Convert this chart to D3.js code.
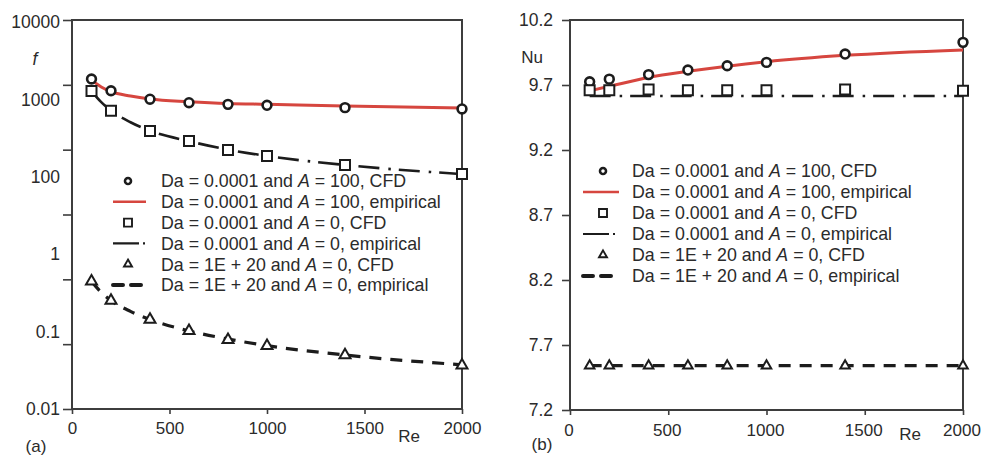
<!DOCTYPE html>
<html>
<head>
<meta charset="utf-8">
<script src="https://cdn.jsdelivr.net/npm/d3@7"></script>
<style>
  body { margin: 0; background: #fff; }
  svg { display: block; }
  text { font-family: "Liberation Sans", Arial, Helvetica, sans-serif; fill: #2b2b2b; }
</style>
</head>
<body>
<svg id="chart" width="981" height="456"></svg>
<script>
// Reynolds numbers of the CFD runs and of the empirical correlation curves
const reCFD = [100, 200, 400, 600, 800, 1000, 1400, 2000];
const reEmp = [100, 150, 200, 300, 400, 600, 800, 1000, 1400, 2000];
const reTicks = [0, 500, 1000, 1500, 2000];

// (a) friction factor f
const fCfdA100 = [1230, 810, 600, 530, 500, 483, 445, 425];
const fCfdA0 = [800, 400, 194, 136, 99, 80, 58, 42];
const fCfdClear = [0.93, 0.47, 0.24, 0.16, 0.117, 0.094, 0.068, 0.047];
const fEmpA100 = [1190, 925, 785, 673, 605, 550, 515, 500, 470, 440];
const fEmpA0 = [800, 540, 400, 265, 195, 135, 100, 80, 58, 42];
const fEmpClear = [0.93, 0.63, 0.47, 0.32, 0.24, 0.16, 0.12, 0.095, 0.068, 0.048];
const fTickValues = [0.01, 0.1, 1, 10, 100, 1000, 10000];
const fTickLabels = ["10000", "1000", "100", "1", "0.1", "0.01"];

// (b) Nusselt number Nu
const nuCfdA100 = [9.725, 9.745, 9.78, 9.815, 9.848, 9.874, 9.938, 10.028];
const nuCfdA0 = [9.66, 9.66, 9.665, 9.66, 9.66, 9.66, 9.665, 9.655];
const nuCfdClear = [7.541, 7.541, 7.541, 7.541, 7.541, 7.541, 7.541, 7.541];
const nuEmpA100 = [9.655, 9.69, 9.758, 9.805, 9.845, 9.879, 9.928, 9.97];
const nuEmpA0 = [9.615, 9.615, 9.615, 9.615, 9.615, 9.615, 9.615, 9.615];
const nuEmpClear = [7.541, 7.541, 7.541, 7.541, 7.541, 7.541, 7.541, 7.541];
const nuTicks = [7.2, 7.7, 8.2, 8.7, 9.2, 9.7, 10.2];

const legendLabels = [
  "Da = 0.0001 and A = 100, CFD",
  "Da = 0.0001 and A = 100, empirical",
  "Da = 0.0001 and A = 0, CFD",
  "Da = 0.0001 and A = 0, empirical",
  "Da = 1E + 20 and A = 0, CFD",
  "Da = 1E + 20 and A = 0, empirical"
];
const legendKinds = ["circle", "red", "square", "dashdot", "triangle", "dashed"];

const RED = "#d6463f";
const INK = "#1c1c1c";
const FRAME = "#3d3d3d";
const TICK_FONT = 17.5;
const LEGEND_FONT = 17.8;
const TITLE_FONT = 17;

const svg = d3.select("#chart");

function drawFrame(g, x, y) {
  const [x0, x1] = x.range();
  const [y0, y1] = y.range();
  g.append("rect")
    .attr("x", x0).attr("y", y1)
    .attr("width", x1 - x0).attr("height", y0 - y1)
    .attr("fill", "none").attr("stroke", FRAME).attr("stroke-width", 2);
}

function styleAxis(ax, size) {
  ax.select(".domain").remove();
  ax.selectAll(".tick line").attr("stroke", FRAME).attr("stroke-width", 1.6);
  ax.selectAll("text").attr("font-size", size || TICK_FONT).attr("fill", "#2b2b2b")
    .attr("font-family", '"Liberation Sans", Arial, sans-serif');
}

function drawLine(g, x, y, xs, ys, kind) {
  const pts = xs.map((d, i) => [d, ys[i]]);
  const line = d3.line().x(d => x(d[0])).y(d => y(d[1])).curve(d3.curveMonotoneX);
  const p = g.append("path").datum(pts).attr("d", line).attr("fill", "none");
  if (kind === "red") p.attr("stroke", RED).attr("stroke-width", 3);
  if (kind === "dashdot") p.attr("stroke", INK).attr("stroke-width", 2.6).attr("stroke-dasharray", "21,9,2.5,8");
  if (kind === "dashed") p.attr("stroke", INK).attr("stroke-width", 3.2).attr("stroke-dasharray", "12,9");
}

function drawMarkers(g, x, y, xs, ys, kind, size) {
  const pts = xs.map((d, i) => [d, ys[i]]);
  const sel = g.append("g").selectAll("path").data(pts).join("path")
    .attr("transform", d => `translate(${x(d[0])},${y(d[1])})`)
    .attr("fill", "#fff").attr("stroke", INK);
  if (kind === "circle") sel.attr("d", d3.symbol(d3.symbolCircle, Math.PI * size * size)).attr("stroke-width", 2.6);
  if (kind === "square") sel.attr("d", d3.symbol(d3.symbolSquare, size * size)).attr("stroke-width", 2);
  if (kind === "triangle") sel.attr("d", d3.symbol(d3.symbolTriangle, Math.sqrt(3) / 4 * size * size)).attr("stroke-width", 2);
}

function drawLegend(g, cfg) {
  legendLabels.forEach((label, i) => {
    const cy = cfg.y0 + i * cfg.dy;
    const kind = legendKinds[i];
    if (kind === "circle" || kind === "square" || kind === "triangle") {
      const sz = kind === "circle" ? 3 : 8;
      const sym = kind === "circle" ? d3.symbolCircle : kind === "square" ? d3.symbolSquare : d3.symbolTriangle;
      const area = kind === "circle" ? Math.PI * sz * sz : kind === "square" ? sz * sz : Math.sqrt(3) / 4 * sz * sz;
      g.append("path").attr("d", d3.symbol(sym, area))
        .attr("transform", `translate(${cfg.sx},${cy})`)
        .attr("fill", "#fff").attr("stroke", INK).attr("stroke-width", kind === "circle" ? 2.6 : 1.9);
    } else {
      const l = g.append("line").attr("x1", cfg.lx0).attr("x2", cfg.lx1).attr("y1", cy).attr("y2", cy);
      if (kind === "red") l.attr("stroke", RED).attr("stroke-width", 2.6);
      if (kind === "dashdot") l.attr("stroke", INK).attr("stroke-width", 2.2).attr("stroke-dasharray", "26,4,2,10");
      if (kind === "dashed") l.attr("stroke", INK).attr("stroke-width", 4).attr("stroke-linecap", "round").attr("stroke-dasharray", "10,8");
    }
    const t = g.append("text").attr("x", cfg.tx).attr("y", cy).attr("dy", "0.36em").attr("font-size", LEGEND_FONT);
    const parts = label.split(" A ");
    t.append("tspan").text(parts[0] + " ");
    t.append("tspan").attr("font-style", "italic").text("A");
    t.append("tspan").text(" " + parts[1]);
  });
}

// ---------- panel (a): friction factor, log scale ----------
{
  const g = svg.append("g");
  const x = d3.scaleLinear().domain([0, 2000]).range([72, 462]);
  const y = d3.scaleLog().domain([0.01, 10000]).range([409, 20]);

  const ay = g.append("g").attr("transform", "translate(72,0)")
    .call(d3.axisLeft(y).tickValues(fTickValues).tickSize(9).tickFormat(""));
  styleAxis(ay);
  // decade labels spread evenly down the axis
  const yl = d3.scalePoint().domain(fTickLabels).range([22, 409]);
  g.append("g").selectAll("text").data(fTickLabels).join("text")
    .attr("x", 60).attr("y", d => yl(d)).attr("dy", "0.35em")
    .attr("text-anchor", "end").attr("font-size", TICK_FONT).text(d => d);

  const ax = g.append("g").attr("transform", "translate(0,409)")
    .call(d3.axisBottom(x).tickValues(reTicks).tickSize(5).tickPadding(8).tickFormat(d3.format("d")));
  styleAxis(ax, 17);

  drawFrame(g, x, y);

  drawLine(g, x, y, reEmp, fEmpA100, "red");
  drawLine(g, x, y, reEmp, fEmpA0, "dashdot");
  drawLine(g, x, y, reEmp, fEmpClear, "dashed");
  drawMarkers(g, x, y, reCFD, fCfdA100, "circle", 4.4);
  drawMarkers(g, x, y, reCFD, fCfdA0, "square", 10);
  drawMarkers(g, x, y, reCFD, fCfdClear, "triangle", 11);

  drawLegend(g, { y0: 181, dy: 20.8, sx: 128, lx0: 113, lx1: 146, tx: 161 });

  g.append("text").attr("x", 35).attr("y", 59).attr("dy", "0.35em").attr("text-anchor", "middle")
    .attr("font-size", TICK_FONT).attr("font-style", "italic").text("f");
  g.append("text").attr("x", 409).attr("y", 436).attr("dy", "0.35em").attr("text-anchor", "middle")
    .attr("font-size", TITLE_FONT).text("Re");
  g.append("text").attr("x", 36).attr("y", 446).attr("dy", "0.35em").attr("text-anchor", "middle")
    .attr("font-size", TITLE_FONT).text("(a)");
}

// ---------- panel (b): Nusselt number ----------
{
  const g = svg.append("g");
  const x = d3.scaleLinear().domain([0, 2000]).range([570, 963]);
  const y = d3.scaleLinear().domain([7.2, 10.2]).range([410, 20]);

  const ay = g.append("g").attr("transform", "translate(570,0)")
    .call(d3.axisLeft(y).tickValues(nuTicks).tickSize(8).tickPadding(9).tickFormat(d3.format(".1f")));
  styleAxis(ay);

  const ax = g.append("g").attr("transform", "translate(0,410)")
    .call(d3.axisBottom(x).tickValues(reTicks).tickSize(5).tickPadding(9).tickFormat(d3.format("d")));
  styleAxis(ax, 17);
  ax.selectAll(".tick text").attr("dx", -1.5);

  drawFrame(g, x, y);

  drawLine(g, x, y, reCFD, nuEmpA100, "red");
  drawLine(g, x, y, reCFD, nuEmpA0, "dashdot");
  drawLine(g, x, y, reCFD, nuEmpClear, "dashed");
  drawMarkers(g, x, y, reCFD, nuCfdA100, "circle", 4.4);
  drawMarkers(g, x, y, reCFD, nuCfdA0, "square", 10);
  drawMarkers(g, x, y, reCFD, nuCfdClear, "triangle", 9.5);

  drawLegend(g, { y0: 171, dy: 21, sx: 603, lx0: 583, lx1: 619, tx: 632 });

  g.append("text").attr("x", 532).attr("y", 57).attr("dy", "0.35em").attr("text-anchor", "middle")
    .attr("font-size", TITLE_FONT).text("Nu");
  g.append("text").attr("x", 910).attr("y", 434).attr("dy", "0.35em").attr("text-anchor", "middle")
    .attr("font-size", TITLE_FONT).text("Re");
  g.append("text").attr("x", 542).attr("y", 444).attr("dy", "0.35em").attr("text-anchor", "middle")
    .attr("font-size", TITLE_FONT).text("(b)");
}
</script>
</body>
</html>
